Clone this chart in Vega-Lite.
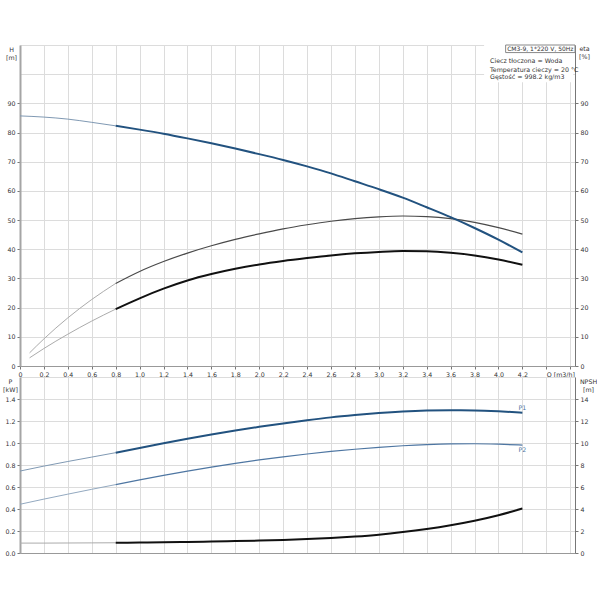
{
  "$schema": "https://vega.github.io/schema/vega-lite/v6.json",
  "background": "white",
  "padding": {"left": 2, "top": 42, "right": 0, "bottom": 0},
  "spacing": 11,
  "bounds": "flush",
  "config": {
    "view": {"stroke": null},
    "axis": {
      "labelFont": "DejaVu Sans", "labelFontSize": 6.3, "labelColor": "#333",
      "titleFont": "DejaVu Sans", "titleFontSize": 6.3, "titleFontWeight": "normal", "titleColor": "#333",
      "gridColor": "#dcdcdc", "gridWidth": 1, "tickColor": "#777", "tickSize": 3, "labelPadding": 2,
      "domainColor": "#999", "labelFlush": false, "labelOverlap": false
    },
    "text": {"font": "DejaVu Sans", "fontSize": 6.3, "color": "#333"},
    "line": {"interpolate": "monotone"}
  },
  "datasets": {
    "head": [
      {"q": 0, "v": 85.7}, {"q": 0.2, "v": 85.3}, {"q": 0.4, "v": 84.6}, {"q": 0.6, "v": 83.5},
      {"q": 0.8, "v": 82.3}, {"q": 1.0, "v": 81.0}, {"q": 1.2, "v": 79.6}, {"q": 1.4, "v": 78.0},
      {"q": 1.6, "v": 76.3}, {"q": 1.8, "v": 74.5}, {"q": 2.0, "v": 72.6}, {"q": 2.2, "v": 70.6},
      {"q": 2.4, "v": 68.4}, {"q": 2.6, "v": 66.0}, {"q": 2.8, "v": 63.3}, {"q": 3.0, "v": 60.6},
      {"q": 3.2, "v": 57.7}, {"q": 3.4, "v": 54.4}, {"q": 3.6, "v": 51.0}, {"q": 3.8, "v": 47.3},
      {"q": 4.0, "v": 43.3}, {"q": 4.2, "v": 38.9}
    ],
    "etaPump": [
      {"q": 0.08, "v": 4.5}, {"q": 0.2, "v": 9.3}, {"q": 0.4, "v": 16.5}, {"q": 0.6, "v": 22.8},
      {"q": 0.8, "v": 28.3}, {"q": 1.0, "v": 32.4}, {"q": 1.2, "v": 35.8}, {"q": 1.4, "v": 38.7},
      {"q": 1.6, "v": 41.2}, {"q": 1.8, "v": 43.4}, {"q": 2.0, "v": 45.3}, {"q": 2.2, "v": 47.0},
      {"q": 2.4, "v": 48.4}, {"q": 2.6, "v": 49.6}, {"q": 2.8, "v": 50.5}, {"q": 3.0, "v": 51.1},
      {"q": 3.2, "v": 51.4}, {"q": 3.4, "v": 51.2}, {"q": 3.6, "v": 50.5}, {"q": 3.8, "v": 49.2},
      {"q": 4.0, "v": 47.4}, {"q": 4.2, "v": 45.2}
    ],
    "etaTotal": [
      {"q": 0.08, "v": 2.8}, {"q": 0.2, "v": 6.0}, {"q": 0.4, "v": 10.9}, {"q": 0.6, "v": 15.4},
      {"q": 0.8, "v": 19.5}, {"q": 1.0, "v": 23.2}, {"q": 1.2, "v": 26.5}, {"q": 1.4, "v": 29.3},
      {"q": 1.6, "v": 31.5}, {"q": 1.8, "v": 33.3}, {"q": 2.0, "v": 34.8}, {"q": 2.2, "v": 36.0},
      {"q": 2.4, "v": 37.0}, {"q": 2.6, "v": 37.9}, {"q": 2.8, "v": 38.6}, {"q": 3.0, "v": 39.1},
      {"q": 3.2, "v": 39.4}, {"q": 3.4, "v": 39.3}, {"q": 3.6, "v": 38.8}, {"q": 3.8, "v": 37.9},
      {"q": 4.0, "v": 36.5}, {"q": 4.2, "v": 34.7}
    ],
    "p1": [
      {"q": 0, "v": 0.745}, {"q": 0.2, "v": 0.79}, {"q": 0.4, "v": 0.832}, {"q": 0.6, "v": 0.872},
      {"q": 0.8, "v": 0.912}, {"q": 1.0, "v": 0.955}, {"q": 1.2, "v": 0.997}, {"q": 1.4, "v": 1.038},
      {"q": 1.6, "v": 1.077}, {"q": 1.8, "v": 1.113}, {"q": 2.0, "v": 1.147}, {"q": 2.2, "v": 1.178},
      {"q": 2.4, "v": 1.207}, {"q": 2.6, "v": 1.233}, {"q": 2.8, "v": 1.254}, {"q": 3.0, "v": 1.272},
      {"q": 3.2, "v": 1.286}, {"q": 3.4, "v": 1.295}, {"q": 3.6, "v": 1.298}, {"q": 3.8, "v": 1.296},
      {"q": 4.0, "v": 1.288}, {"q": 4.2, "v": 1.276}
    ],
    "p2": [
      {"q": 0, "v": 0.443}, {"q": 0.2, "v": 0.49}, {"q": 0.4, "v": 0.535}, {"q": 0.6, "v": 0.579},
      {"q": 0.8, "v": 0.622}, {"q": 1.0, "v": 0.664}, {"q": 1.2, "v": 0.705}, {"q": 1.4, "v": 0.744},
      {"q": 1.6, "v": 0.781}, {"q": 1.8, "v": 0.815}, {"q": 2.0, "v": 0.846}, {"q": 2.2, "v": 0.874},
      {"q": 2.4, "v": 0.9}, {"q": 2.6, "v": 0.923}, {"q": 2.8, "v": 0.943}, {"q": 3.0, "v": 0.96},
      {"q": 3.2, "v": 0.975}, {"q": 3.4, "v": 0.986}, {"q": 3.6, "v": 0.992}, {"q": 3.8, "v": 0.993},
      {"q": 4.0, "v": 0.989}, {"q": 4.2, "v": 0.981}
    ],
    "npsh": [
      {"q": 0, "v": 0.9}, {"q": 0.2, "v": 0.9}, {"q": 0.4, "v": 0.91}, {"q": 0.6, "v": 0.92},
      {"q": 0.8, "v": 0.93}, {"q": 1.0, "v": 0.95}, {"q": 1.2, "v": 0.97}, {"q": 1.4, "v": 1.0},
      {"q": 1.6, "v": 1.04}, {"q": 1.8, "v": 1.08}, {"q": 2.0, "v": 1.13}, {"q": 2.2, "v": 1.19},
      {"q": 2.4, "v": 1.27}, {"q": 2.6, "v": 1.37}, {"q": 2.8, "v": 1.5}, {"q": 3.0, "v": 1.67},
      {"q": 3.2, "v": 1.9}, {"q": 3.4, "v": 2.18}, {"q": 3.6, "v": 2.52}, {"q": 3.8, "v": 2.93},
      {"q": 4.0, "v": 3.43}, {"q": 4.2, "v": 4.05}
    ],
    "notes": [
      {"model": "CM3-9, 1*220 V, 50Hz", "liquid": "Ciecz tłoczona = Woda", "temp": "Temperatura cieczy = 20 °C", "density": "Gęstość = 998.2 kg/m3"}
    ]
  },
  "vconcat": [
    {
      "width": 555,
      "height": 321,
      "layer": [
        {
          "encoding": {
            "x": {
              "field": "q", "type": "quantitative",
              "scale": {"domain": [0, 4.64], "nice": false, "zero": false},
              "axis": null
            },
            "y": {
              "field": "v", "type": "quantitative",
              "scale": {"domain": [0, 110], "nice": false},
              "axis": {
                "orient": "right", "grid": false,
                "values": [0, 10, 20, 30, 40, 50, 60, 70, 80, 90, 100, 110],
                "labelExpr": "datum.value > 95 ? '' : datum.label",
                "tickOpacity": {"condition": {"test": "datum.value > 95", "value": 0}, "value": 1},
                "title": ["eta", "[%]"], "titleAngle": 0, "titleAlign": "center", "titleBaseline": "top",
                "titleX": 9, "titleY": 0, "titleLineHeight": 8, "domainColor": "#777"
              }
            }
          },
          "layer": [
            {"data": {"name": "etaPump"}, "transform": [{"filter": "datum.q <= 0.8"}], "mark": {"type": "line", "stroke": "#ababab", "strokeWidth": 1}},
            {"data": {"name": "etaPump"}, "transform": [{"filter": "datum.q >= 0.8"}], "mark": {"type": "line", "stroke": "#4a4a4a", "strokeWidth": 1.2}},
            {"data": {"name": "etaTotal"}, "transform": [{"filter": "datum.q <= 0.8"}], "mark": {"type": "line", "stroke": "#ababab", "strokeWidth": 1}},
            {"data": {"name": "etaTotal"}, "transform": [{"filter": "datum.q >= 0.8"}], "mark": {"type": "line", "stroke": "#111", "strokeWidth": 2}}
          ]
        },
        {
          "data": {"name": "notes"},
          "layer": [
            {
              "mark": {"type": "rect", "fill": "white"},
              "encoding": {
                "x": {"datum": 3.88, "scale": {"domain": [0, 4.64], "nice": false, "zero": false}, "axis": null}, "x2": {"datum": 4.625},
                "y": {"datum": 97.2, "scale": {"domain": [0, 110], "nice": false}, "axis": null}, "y2": {"datum": 110}
              }
            },
            {
              "mark": {"type": "rect", "fill": "white", "stroke": "#888", "strokeWidth": 1},
              "encoding": {
                "x": {"datum": 4.06}, "x2": {"datum": 4.64},
                "y": {"datum": 107.4}, "y2": {"datum": 110}
              }
            },
            {
              "mark": {"type": "text", "align": "center", "baseline": "middle", "fontSize": 6},
              "encoding": {"x": {"datum": 4.35}, "y": {"datum": 108.7}, "text": {"field": "model"}}
            },
            {
              "mark": {"type": "text", "align": "left", "baseline": "middle"},
              "encoding": {"x": {"datum": 3.93}, "y": {"datum": 104.4}, "text": {"field": "liquid"}}
            },
            {
              "mark": {"type": "text", "align": "left", "baseline": "middle"},
              "encoding": {"x": {"datum": 3.93}, "y": {"datum": 101.6}, "text": {"field": "temp"}}
            },
            {
              "mark": {"type": "text", "align": "left", "baseline": "middle"},
              "encoding": {"x": {"datum": 3.93}, "y": {"datum": 98.9}, "text": {"field": "density"}}
            }
          ]
        },
        {
          "data": {"name": "head"},
          "encoding": {
            "x": {
              "field": "q", "type": "quantitative",
              "scale": {"domain": [0, 4.64], "nice": false, "zero": false},
              "axis": {
                "orient": "bottom", "title": null, "grid": true, "labelOverlap": false,
                "values": [0, 0.2, 0.4, 0.6, 0.8, 1.0, 1.2, 1.4, 1.6, 1.8, 2.0, 2.2, 2.4, 2.6, 2.8, 3.0, 3.2, 3.4, 3.6, 3.8, 4.0, 4.2, 4.4, 4.6],
                "labelExpr": "datum.value > 4.5 ? '' : datum.value > 4.3 ? 'Q [m3/h]' : datum.value == 0 ? '0' : replace(format(datum.value, '.1f'), '.', ',')",
                "labelAlign": {"condition": {"test": "datum.value > 4.3", "value": "left"}, "value": "center"},
                "tickSize": 3, "domainColor": "#999"
              }
            },
            "y": {
              "field": "v", "type": "quantitative",
              "scale": {"domain": [0, 110], "nice": false},
              "axis": {
                "orient": "left", "grid": true,
                "values": [0, 10, 20, 30, 40, 50, 60, 70, 80, 90, 100, 110],
                "labelExpr": "datum.value > 95 ? '' : datum.label",
                "tickOpacity": {"condition": {"test": "datum.value > 95", "value": 0}, "value": 1},
                "title": ["H", "[m]"], "titleAngle": 0, "titleAlign": "center", "titleBaseline": "top",
                "titleX": -9, "titleY": 1, "titleLineHeight": 8, "domainColor": "#a5a5a5", "domainWidth": 2
              }
            }
          },
          "layer": [
            {"transform": [{"filter": "datum.q <= 0.8"}], "mark": {"type": "line", "stroke": "#8099b3", "strokeWidth": 1}},
            {"transform": [{"filter": "datum.q >= 0.8"}], "mark": {"type": "line", "stroke": "#22527f", "strokeWidth": 2}}
          ]
        }
      ],
      "resolve": {"scale": {"y": "independent", "x": "independent"}}
    },
    {
      "width": 555,
      "height": 176,
      "encoding": {
        "x": {
          "field": "q", "type": "quantitative",
          "scale": {"domain": [0, 4.64], "nice": false, "zero": false},
          "axis": {
            "orient": "bottom", "title": null, "grid": true, "labels": false, "ticks": false,
            "values": [0, 0.2, 0.4, 0.6, 0.8, 1.0, 1.2, 1.4, 1.6, 1.8, 2.0, 2.2, 2.4, 2.6, 2.8, 3.0, 3.2, 3.4, 3.6, 3.8, 4.0, 4.2, 4.4, 4.6],
            "domainColor": "#999"
          }
        }
      },
      "layer": [
        {
          "data": {"name": "npsh"},
          "encoding": {
            "y": {
              "field": "v", "type": "quantitative",
              "scale": {"domain": [0, 16], "nice": false},
              "axis": {
                "orient": "right", "grid": false,
                "values": [0, 2, 4, 6, 8, 10, 12, 14, 16],
                "labelExpr": "datum.value > 15 ? '' : datum.label",
                "tickOpacity": {"condition": {"test": "datum.value > 15", "value": 0}, "value": 1},
                "title": ["NPSH", "[m]"], "titleAngle": 0, "titleAlign": "center", "titleBaseline": "top",
                "titleX": 13, "titleY": 1, "titleLineHeight": 8, "domainColor": "#777"
              }
            }
          },
          "layer": [
            {"transform": [{"filter": "datum.q <= 0.8"}], "mark": {"type": "line", "stroke": "#ababab", "strokeWidth": 1}},
            {"transform": [{"filter": "datum.q >= 0.8"}], "mark": {"type": "line", "stroke": "#111", "strokeWidth": 2}}
          ]
        },
        {
          "encoding": {
            "y": {
              "field": "v", "type": "quantitative",
              "scale": {"domain": [0, 1.6], "nice": false},
              "axis": {
                "orient": "left", "grid": true,
                "values": [0, 0.2, 0.4, 0.6, 0.8, 1.0, 1.2, 1.4, 1.6],
                "labelExpr": "datum.value > 1.5 ? '' : format(datum.value, '.1f')",
                "tickOpacity": {"condition": {"test": "datum.value > 1.5", "value": 0}, "value": 1},
                "title": ["P", "[kW]"], "titleAngle": 0, "titleAlign": "center", "titleBaseline": "top",
                "titleX": -10, "titleY": 1, "titleLineHeight": 8, "domainColor": "#a5a5a5", "domainWidth": 2
              }
            }
          },
          "layer": [
            {"data": {"name": "p2"}, "transform": [{"filter": "datum.q <= 0.8"}], "mark": {"type": "line", "stroke": "#93a9c0", "strokeWidth": 1}},
            {"data": {"name": "p2"}, "transform": [{"filter": "datum.q >= 0.8"}], "mark": {"type": "line", "stroke": "#4e76a2", "strokeWidth": 1.2}},
            {"data": {"name": "p1"}, "transform": [{"filter": "datum.q <= 0.8"}], "mark": {"type": "line", "stroke": "#8099b3", "strokeWidth": 1}},
            {"data": {"name": "p1"}, "transform": [{"filter": "datum.q >= 0.8"}], "mark": {"type": "line", "stroke": "#22527f", "strokeWidth": 2}},
            {"data": {"name": "p1"}, "transform": [{"filter": "datum.q == 4.2"}], "mark": {"type": "text", "text": "P1", "color": "#4e76a2", "baseline": "middle", "dy": -5}},
            {"data": {"name": "p2"}, "transform": [{"filter": "datum.q == 4.2"}], "mark": {"type": "text", "text": "P2", "color": "#4e76a2", "baseline": "middle", "dy": 5}}
          ]
        }
      ],
      "resolve": {"scale": {"y": "independent"}}
    }
  ]
}
